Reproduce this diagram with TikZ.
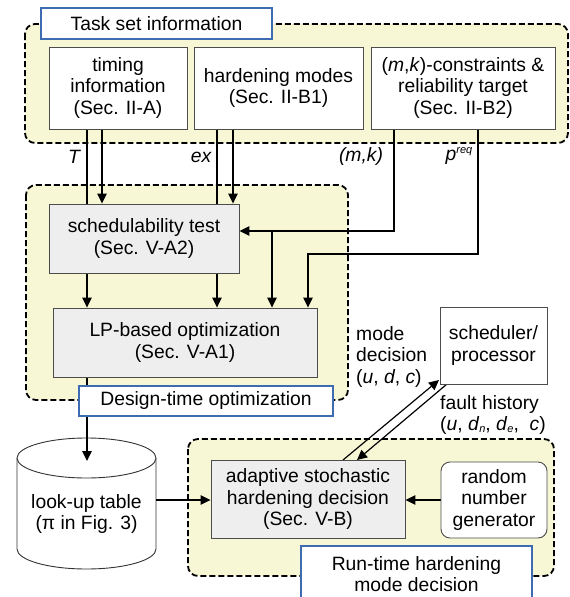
\documentclass[tikz,border=0pt]{standalone}
\usepackage{fontspec}
\setmainfont{Liberation Sans}
\usetikzlibrary{arrows.meta}
\definecolor{grpyellow}{HTML}{F7F7D5}
\definecolor{boxgray}{HTML}{EEEEEE}
\definecolor{ttlblue}{HTML}{3D6CB3}
\pgfdeclarelayer{grp}
\pgfdeclarelayer{conn}
\pgfsetlayers{grp,conn,main}
\newcommand{\smallidx}[1]{{\fontsize{11}{11}\selectfont\itshape #1}}
\begin{document}
\begin{tikzpicture}[x=1pt,y=-1pt,
  font=\fontsize{19.3}{21.5}\selectfont,
  box/.style={draw=black!70, line width=0.9pt, fill=white, align=center, inner sep=0pt},
  gbox/.style={box, fill=boxgray},
  grp/.style={draw=black, line width=1.8pt, dash pattern=on 6pt off 3pt, fill=grpyellow, rounded corners=10pt},
  ttl/.style={draw=ttlblue, line width=2.8pt, fill=white, align=center, inner sep=0pt},
  arr/.style={line width=1.2pt, -{Triangle[length=10pt,width=9.5pt]}},
  lbl/.style={inner sep=0pt, font=\fontsize{19.3}{21.5}\selectfont\itshape},
  txt/.style={inner sep=0pt, align=left}]
\useasboundingbox (0,0) rectangle (570,597);

% groups and cylinder
\begin{pgfonlayer}{grp}
  \path[grp] (25,24) rectangle (568,143);
  \path[grp] (26,185) rectangle (348,400);
  \path[grp] (188,439) rectangle (554,576);
  \draw[black!80, line width=0.9pt, fill=white]
    (17,458) -- (17,549) arc[start angle=180, end angle=360, x radius=69.5pt, y radius=20pt]
    -- (156,458);
  \draw[black!80, line width=0.9pt, fill=white] (86.5,458) ellipse [x radius=69.5pt, y radius=20pt];
\end{pgfonlayer}

% title boxes
\node[ttl, minimum width=231pt, minimum height=31pt] (ttask) at (156.5,23.5) {Task set information};
\node[ttl, minimum width=254pt, minimum height=30pt] (tdesign) at (206,401) {Design-time optimization};
\node[ttl, minimum width=231pt, minimum height=56pt] (trun) at (416.5,574) {Run-time hardening\\mode decision};

% boxes
\node[box, minimum width=138pt, minimum height=82pt] (timing) at (118,88) {timing\\information\\(Sec. II-A)};
\node[box, minimum width=169pt, minimum height=82pt] (hard) at (278.5,88) {hardening modes\\(Sec. II-B1)};
\node[box, minimum width=184pt, minimum height=82pt] (mk) at (463,88) {(\textit{m},\textit{k})-constraints \&\\reliability target\\(Sec. II-B2)};
\node[gbox, minimum width=190pt, minimum height=69pt] (sched) at (144,238.5) {schedulability test\\(Sec. V-A2)};
\node[gbox, minimum width=264pt, minimum height=69pt] (lp) at (185,342.5) {LP-based optimization\\(Sec. V-A1)};
\node[box, minimum width=107pt, minimum height=77pt] (proc) at (493.5,345.5) {scheduler/\\processor};
\node[gbox, minimum width=194pt, minimum height=78pt] (adapt) at (308,499) {adaptive stochastic\\hardening decision\\(Sec. V-B)};
\node[box, rounded corners=9pt, minimum width=106pt, minimum height=76pt] (rng) at (494,500) {random\\number\\generator};
\node[inner sep=0pt, align=center] (lut) at (86.5,514) {look-up table\\(π in Fig. 3)};

% labels
\node[lbl] (lT) at (74,157) {T};
\node[lbl] (lex) at (201,157) {ex};
\node[lbl] (lmk) at (361,157) {(m,k)};
\node[lbl] (lp2) at (459,156) {p\raisebox{7pt}{\smallidx{req}}};
\node[txt, anchor=west] (lmode) at (356,357) {mode\\decision\\(\textit{u}, \textit{d}, \textit{c})};
\node[txt, anchor=west] (lfault) at (440,415) {fault history\\(\textit{u}, \textit{d}\raisebox{-2pt}{\smallidx{n}}, \textit{d}\raisebox{-2pt}{\smallidx{e}},\ \ \textit{c})};

% coordinates
\coordinate (xT) at (87,0);
\coordinate (xT2) at (102,0);
\coordinate (xE) at (217,0);
\coordinate (xE2) at (233,0);
\coordinate (j1) at (394,231);
\coordinate (b1) at (272,231);
\coordinate (j2) at (478,254);
\coordinate (b2) at (308,254);
\coordinate (lutT) at (87,461);
\coordinate (lutE) at (156,500);
\coordinate (d1s) at (343,460);
\coordinate (d1e) at (439,380);
\coordinate (d2s) at (447,384);
\coordinate (d2e) at (357,460);

% connectors
\begin{pgfonlayer}{conn}
  \draw[arr] (timing.south -| xT) -- (lp.north -| xT);
  \draw[arr] (timing.south -| xT2) -- (sched.north -| xT2);
  \draw[arr] (hard.south -| xE) -- (lp.north -| xE);
  \draw[arr] (hard.south -| xE2) -- (sched.north -| xE2);
  \draw[arr] (mk.south -| j1) -- (j1) -- (j1 -| sched.east);
  \draw[arr] (b1) -- (b1 |- lp.north);
  \draw[arr] (mk.south -| j2) -- (j2) -- (b2) -- (b2 |- lp.north);
  \draw[arr] (lp.south -| lutT) -- (lutT);
  \draw[arr] (lutE) -- (lutE -| adapt.west);
  \draw[arr] (rng.west |- lutE) -- (lutE -| adapt.east);
  \draw[arr] (d1s) -- (d1e);
  \draw[arr] (d2s) -- (d2e);
\end{pgfonlayer}
\end{tikzpicture}
\end{document}
